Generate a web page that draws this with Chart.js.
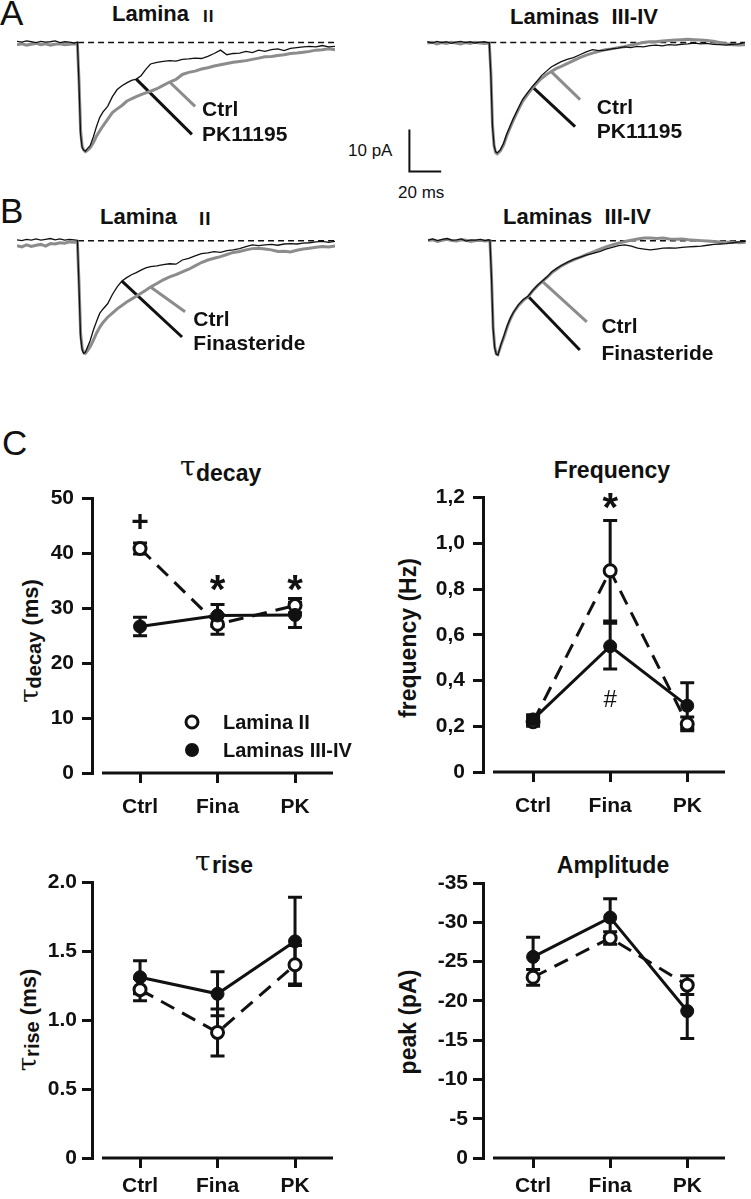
<!DOCTYPE html>
<html>
<head>
<meta charset="utf-8">
<script src="https://cdn.jsdelivr.net/npm/chart.js@4.4.1/dist/chart.umd.min.js"></script>
<style>
  body { margin: 0; background: #fff; }
  #fig { position: relative; width: 751px; height: 1199px; overflow: hidden; background: #fff;
         font-family: "Liberation Sans", Arial, sans-serif; color: #111; }
  canvas { position: absolute; }
  .t { position: absolute; line-height: 1; white-space: nowrap; }
  .b { font-weight: bold; }
  .c { transform: translateX(-50%); }
  .v { transform: translate(-50%, -50%) rotate(-90deg); }
  .tau { font-family: "DejaVu Serif", "Liberation Serif", serif; font-weight: normal; }
</style>
</head>
<body>
<div id="fig">
  <!-- panel letters -->
  <div class="t" style="left:0;top:-5px;font-size:35px">A</div>
  <div class="t" style="left:0;top:193px;font-size:35px">B</div>
  <div class="t" style="left:2px;top:425px;font-size:35px">C</div>

  <!-- trace titles -->
  <div class="t b" style="left:112px;top:3px;font-size:22px">Lamina</div>
  <div class="t b" style="left:203px;top:8px;font-size:17px;letter-spacing:1px">II</div>
  <div class="t b" style="left:510px;top:6px;font-size:22px">Laminas&nbsp;&nbsp;III-IV</div>
  <div class="t b" style="left:100px;top:206px;font-size:22px">Lamina</div>
  <div class="t b" style="left:199px;top:209px;font-size:19px;letter-spacing:1px">II</div>
  <div class="t b" style="left:503px;top:206px;font-size:22px">Laminas&nbsp;&nbsp;III-IV</div>

  <!-- scale bar text -->
  <div class="t" style="left:348px;top:142px;font-size:17px">10 pA</div>
  <div class="t" style="left:398px;top:184px;font-size:17px">20 ms</div>

  <!-- panel C titles -->
  <div class="t tau" style="left:180px;top:453px;font-size:28px">τ</div>
  <div class="t b" style="left:196px;top:462px;font-size:23px">decay</div>
  <div class="t b c" style="left:612px;top:459px;font-size:23px">Frequency</div>
  <div class="t tau" style="left:195px;top:848px;font-size:28px">τ</div>
  <div class="t b" style="left:212px;top:854px;font-size:23px">rise</div>
  <div class="t b c" style="left:613px;top:854px;font-size:23px">Amplitude</div>

  <!-- axis titles -->
  <div class="t b v" style="left:29px;top:641px;font-size:22px"><span class="tau" style="font-size:26px">τ</span><span style="font-size:20px;position:relative;top:3px">decay</span> (ms)</div>
  <div class="t b v" style="left:408px;top:638px;font-size:23px">frequency (Hz)</div>
  <div class="t b v" style="left:27px;top:1020px;font-size:22px"><span class="tau" style="font-size:26px">τ</span><span style="font-size:20px;position:relative;top:3px">rise</span> (ms)</div>
  <div class="t b v" style="left:408px;top:1022px;font-size:23px">peak (pA)</div>
</div>

<script>
// --- Data: current traces (pA), sampled on one shared time base (ms) ---
const traceTime = [0,3,6,9,12,15,18,21,24,27,30,33,36,38, 39,40,41,42,43,44, 46,48,50,52,54,
  57,60,63,66,69,72,75,78,81,84, 88,92,96,100,104,108,112,116,120,124,128,132,136,140,144,
  148,152,156,160,164,168,172,176,180,184,188,192,196,200];

// A, Lamina II
const a2Ctrl = [-0.5,-0.3,-0.6,-0.4,-0.2,-0.5,-0.3,-0.6,-0.4,-0.3,-0.5,-0.4,-0.3,-0.4,
  -9,-21,-24.8,-25.6,-26.0,-25.8, -25.1,-23.9,-22.3,-21.1,-19.9,
  -18.3,-16.7,-15.8,-15.0,-14.0,-13.4,-12.9,-12.4,-12.0,-11.6,
  -11.0,-10.2,-9.4,-8.8,-7.6,-7.1,-6.8,-6.3,-6.0,-5.6,-5.3,-5.0,-4.7,-4.5,-4.3,-4.0,-3.7,-3.4,-3.3,-3.1,-2.9,-2.6,-2.5,-2.3,-2.1,-1.8,-1.7,-1.5,-1.7];
const a2PK = [0.3,0.1,0.4,0.2,0.0,0.3,0.1,0.2,0.4,0.0,0.2,0.1,-0.1,0.1,
  -10,-22,-25.1,-25.7,-25.9,-25.4, -24.6,-22.5,-20.0,-17.9,-16.6,
  -15.2,-12.9,-11.2,-10.3,-9.6,-9.0,-8.7,-7.9,-6.4,-5.1,
  -4.7,-4.5,-4.3,-4.4,-4.0,-3.9,-3.7,-3.8,-3.3,-2.6,-1.8,-2.9,-2.6,-2.5,-2.1,-2.4,-1.8,-2.1,-1.7,-1.5,-1.9,-1.4,-1.2,-1.0,-0.9,-1.0,-0.7,-1.0,-0.9];

// A, Laminas III-IV
const a34Ctrl = [-0.1,0.1,-0.3,0.0,-0.2,0.1,-0.1,-0.3,0.0,-0.2,0.1,-0.1,-0.2,-0.1,
  -0.1,-7,-19.5,-24.6,-26.2,-26.5, -25.8,-24.4,-22.2,-20.4,-18.6,
  -16.2,-14.0,-12.4,-10.9,-9.6,-8.5,-7.6,-6.9,-6.2,-5.7,
  -5.0,-4.3,-3.6,-3.0,-2.5,-2.1,-1.7,-1.5,-1.2,-1.0,-0.6,-0.3,0.0,0.2,0.2,0.4,0.5,0.6,0.7,0.8,0.7,0.6,0.5,0.3,0.0,-0.3,-0.5,-0.6,-0.5];
const a34PK = [0.2,-0.1,0.3,0.0,0.2,-0.2,0.1,0.3,0.0,0.2,-0.1,0.1,0.2,0.0,
  0.0,-8,-20,-24.5,-26.0,-26.3, -25.5,-24.0,-21.8,-20.0,-18.2,
  -15.8,-13.5,-12.0,-10.5,-9.2,-7.8,-6.8,-5.8,-5.2,-4.6,
  -4.0,-3.6,-2.9,-2.2,-1.7,-1.9,-1.8,-1.5,-1.3,-1.0,-1.2,-0.9,-1.0,-0.7,-0.6,-0.8,-0.5,-0.6,-0.4,-0.3,-0.1,-0.3,-0.2,-0.4,-0.5,-0.6,-0.4,-0.3,0.0];

// B, Lamina II
const b2Ctrl = [-1.2,-1.5,-1.0,-1.4,-1.1,-0.9,-1.3,-0.7,-0.8,-0.5,-0.6,-0.3,-0.4,-0.3,
  -10,-22,-25.6,-26.6,-26.8,-26.3, -25.2,-23.7,-22.0,-20.6,-19.5,
  -18.2,-17.2,-16.2,-15.4,-14.6,-13.9,-13.2,-12.5,-11.8,-11.0,
  -10.2,-9.3,-8.6,-8.1,-7.4,-6.8,-6.0,-5.2,-4.6,-4.2,-3.8,-3.3,-2.8,-2.6,-2.2,-1.9,-1.8,-2.0,-2.2,-2.6,-2.5,-2.7,-2.3,-2.0,-1.8,-1.6,-1.4,-1.5,-1.3];
const b2Fina = [0.2,0.0,0.3,0.1,0.4,0.1,0.3,0.5,0.2,0.4,0.1,0.3,0.2,0.1,
  -11,-23,-26.0,-26.8,-26.5,-25.6, -23.8,-21.3,-19.2,-17.3,-16.3,
  -15.0,-12.8,-11.0,-9.6,-8.8,-8.1,-7.6,-7.0,-6.5,-6.2,
  -6.0,-5.7,-5.5,-5.6,-4.6,-4.2,-3.6,-3.1,-2.9,-2.6,-2.8,-2.4,-2.2,-1.9,-1.4,-1.0,-1.2,-1.0,-0.9,-1.1,-0.8,-0.7,-0.8,-0.6,-0.5,-0.3,-0.2,-0.4,-0.2];

// B, Laminas III-IV
const b34Ctrl = [0.0,0.2,-0.2,0.1,0.3,0.0,-0.1,0.2,0.1,-0.2,0.0,0.1,-0.1,0.0,
  0.0,-8.5,-20.5,-25.3,-26.9,-27.1, -24.8,-22.7,-20.4,-18.5,-17.0,
  -15.4,-14.2,-13.3,-11.9,-10.7,-9.7,-8.7,-7.6,-6.8,-6.0,
  -5.2,-4.5,-3.9,-3.3,-2.7,-2.1,-1.5,-1.0,-0.6,-0.2,0.1,0.4,0.6,0.6,0.5,0.6,0.4,0.3,0.4,0.2,0.1,0.0,-0.1,-0.2,-0.3,-0.4,-0.3,-0.5,-0.4];
const b34Fina = [0.1,0.4,0.0,0.3,0.5,0.1,0.2,0.4,-0.1,0.2,0.1,0.3,0.0,0.2,
  0.1,-9,-21,-25.5,-27.0,-27.2, -24.6,-22.4,-20.1,-18.3,-16.9,
  -15.2,-14.0,-13.2,-11.8,-10.6,-9.6,-8.6,-7.4,-6.6,-5.9,
  -5.1,-4.4,-3.9,-3.4,-3.0,-2.6,-2.0,-1.6,-1.2,-1.0,-1.3,-1.8,-2.0,-2.2,-2.0,-1.8,-1.7,-1.8,-1.6,-1.5,-1.4,-1.3,-1.1,-0.9,-0.8,-0.7,-0.5,-0.3,-0.2];

// scale bar
const scaleBarPA = 10;
const scaleBarMS = 20;

// --- Data: panel C summary (mean, error) ---
const groups = ['Ctrl', 'Fina', 'PK'];

const decayL2 = [40.9, 27.1, 30.5];
const decayL2Err = [1.0, 1.8, 1.3];
const decayL34 = [26.7, 28.7, 28.8];
const decayL34Err = [1.7, 2.0, 2.3];

const freqL2 = [0.22, 0.88, 0.21];
const freqL2Err = [0.02, 0.22, 0.03];
const freqL34 = [0.23, 0.55, 0.29];
const freqL34Err = [0.02, 0.10, 0.10];

const riseL2 = [1.22, 0.91, 1.40];
const riseL2Err = [0.08, 0.17, 0.14];
const riseL34 = [1.31, 1.19, 1.57];
const riseL34Err = [0.12, 0.16, 0.32];

const ampL2 = [-23.0, -28.0, -22.0];
const ampL2Err = [1.0, 0.8, 1.2];
const ampL34 = [-25.6, -30.6, -18.7];
const ampL34Err = [2.5, 2.4, 3.5];

// tick values
const decayTicks = [0, 10, 20, 30, 40, 50];
const freqTicks = [0, 0.2, 0.4, 0.6, 0.8, 1.0, 1.2];
const riseTicks = [0, 0.5, 1.0, 1.5, 2.0];
const ampTicks = [-35, -30, -25, -20, -15, -10, -5, 0];

// --- Look ---
const INK = '#111';
const GREY = '#8c8c8c';
const FONT = '"Liberation Sans", Arial, sans-serif';
const PX_PER_MS = 1.59;
const PX_PER_PA = 4.2;
const PA_TOP = 3;

const fig = document.getElementById('fig');

function addCanvas(left, top, w, h) {
    const c = document.createElement('canvas');
    c.width = Math.round(w);
    c.height = Math.round(h);
    c.style.left = left + 'px';
    c.style.top = top + 'px';
    c.style.width = Math.round(w) + 'px';
    c.style.height = Math.round(h) + 'px';
    fig.appendChild(c);
    return c;
}

const series = (xs, ys) => ys.map((v, i) => ({ x: xs[i], y: v }));

// --- Feature: trace panels ---
const traceLabelPlugin = {
    id: 'traceLabels',
    afterDatasetsDraw(chart, args, opts) {
        const { ctx, scales: { x, y } } = chart;
        ctx.save();
        ctx.font = 'bold 21px ' + FONT;
        ctx.fillStyle = INK;
        ctx.textBaseline = 'alphabetic';
        (opts.items || []).forEach(it => {
            ctx.fillText(it.text, x.getPixelForValue(it.t), y.getPixelForValue(it.pA));
        });
        ctx.restore();
    }
};

const tracePanels = [
    { x0: 17, base: 43, tMin: 0, tMax: 200, paMin: -28, onset: 38.4,
      ctrl: a2Ctrl, drug: a2PK, drugName: 'PK11195',
      gPtr: { from: 96, to: [112, -15.2] }, kPtr: { from: 75, to: [110, -21.9] },
      lab: { t: 116.4, ctrl: -17.5, drug: -23.5 } },
    { x0: 427, base: 43, tMin: -55, tMax: 200, paMin: -37.5, onset: 39.6,
      ctrl: a34Ctrl, drug: a34PK, drugName: 'PK11195',
      gPtr: { from: 78, to: [96.2, -13.6] }, kPtr: { from: 66, to: [93, -20] },
      lab: { t: 106.7, ctrl: -17.1, drug: -22.7 },
      bar: { t: -11.3, pA: -30.7 } },
    { x0: 17, base: 241, tMin: 0, tMax: 200, paMin: -30.5, onset: 38.4,
      ctrl: b2Ctrl, drug: b2Fina, drugName: 'Finasteride',
      gPtr: { from: 84, to: [105.7, -16.9] }, kPtr: { from: 66, to: [103.8, -22.9] },
      lab: { t: 110.9, ctrl: -20.4, drug: -26.0 } },
    { x0: 428, base: 241, tMin: 0, tMax: 201.5, paMin: -30.5, onset: 39.0,
      ctrl: b34Ctrl, drug: b34Fina, drugName: 'Finasteride',
      gPtr: { from: 72, to: [100, -19.3] }, kPtr: { from: 63, to: [95.6, -26.0] },
      lab: { t: 109.2, ctrl: -22.0, drug: -28.3 } }
];

function traceChart(p) {
    const left = p.x0 + p.tMin * PX_PER_MS;
    const top = p.base - PA_TOP * PX_PER_PA;
    const w = (p.tMax - p.tMin) * PX_PER_MS;
    const h = (PA_TOP - p.paMin) * PX_PER_PA;
    const cv = addCanvas(left, top, w, h);

    const gi = traceTime.indexOf(p.gPtr.from);
    const ki = traceTime.indexOf(p.kPtr.from);

    const datasets = [
        { data: series(traceTime, p.drug), borderColor: INK, borderWidth: 1.3 },
        { data: series(traceTime, p.ctrl), borderColor: GREY, borderWidth: 3 },
        { data: [{ x: p.onset, y: 0 }, { x: 200, y: 0 }], borderColor: INK, borderWidth: 1.5, borderDash: [6, 4] },
        { data: [{ x: traceTime[ki], y: p.drug[ki] }, { x: p.kPtr.to[0], y: p.kPtr.to[1] }], borderColor: INK, borderWidth: 3 },
        { data: [{ x: traceTime[gi], y: p.ctrl[gi] }, { x: p.gPtr.to[0], y: p.gPtr.to[1] }], borderColor: GREY, borderWidth: 3 }
    ];
    if (p.bar) {
        datasets.push({
            data: [
                { x: p.bar.t, y: p.bar.pA + scaleBarPA },
                { x: p.bar.t, y: p.bar.pA },
                { x: p.bar.t + scaleBarMS, y: p.bar.pA }
            ],
            borderColor: INK, borderWidth: 2
        });
    }

    new Chart(cv, {
        type: 'line',
        data: { datasets: datasets.map(d => Object.assign({ pointRadius: 0, tension: 0, fill: false, clip: false }, d)) },
        options: {
            responsive: false,
            animation: false,
            devicePixelRatio: 1,
            events: [],
            layout: { padding: 0 },
            plugins: {
                legend: { display: false },
                tooltip: { enabled: false },
                traceLabels: { items: [
                    { text: 'Ctrl', t: p.lab.t, pA: p.lab.ctrl },
                    { text: p.drugName, t: p.lab.t, pA: p.lab.drug }
                ] }
            },
            scales: {
                x: { type: 'linear', display: false, min: p.tMin, max: p.tMax },
                y: { type: 'linear', display: false, min: p.paMin, max: PA_TOP }
            }
        },
        plugins: [traceLabelPlugin]
    });
}

tracePanels.forEach(traceChart);

// --- Feature: summary panels ---
const statExtrasPlugin = {
    id: 'statExtras',
    beforeDatasetsDraw(chart) {
        const { ctx, chartArea, scales: { x, y } } = chart;
        ctx.save();
        ctx.strokeStyle = INK;
        ctx.lineWidth = 3;
        // x axis with a gap from the y axis
        ctx.beginPath();
        ctx.moveTo(chartArea.left + 10, chartArea.bottom);
        ctx.lineTo(chartArea.right, chartArea.bottom);
        ctx.stroke();
        // error bars
        chart.data.datasets.forEach(ds => {
            ds.data.forEach((pt, i) => {
                const e = ds.errors[i];
                const px = x.getPixelForValue(pt.x);
                const y1 = y.getPixelForValue(pt.y + e);
                const y2 = y.getPixelForValue(pt.y - e);
                ctx.beginPath();
                ctx.moveTo(px, y1); ctx.lineTo(px, y2);
                ctx.moveTo(px - 7, y1); ctx.lineTo(px + 7, y1);
                ctx.moveTo(px - 7, y2); ctx.lineTo(px + 7, y2);
                ctx.stroke();
            });
        });
        ctx.restore();
    },
    afterDatasetsDraw(chart, args, opts) {
        const { ctx, chartArea, scales: { x, y } } = chart;
        ctx.save();
        ctx.fillStyle = INK;
        ctx.textAlign = 'center';
        ctx.textBaseline = 'alphabetic';
        (opts.marks || []).forEach(m => {
            const cfg = {
                '*': { font: 'bold 40px ' + FONT, k: 0.54 },
                '+': { font: 'bold 30px ' + FONT, k: 0.34 },
                '#': { font: '24px ' + FONT, k: 0.34 }
            }[m.s];
            const size = parseFloat(cfg.font.match(/(\d+)px/)[1]);
            ctx.font = cfg.font;
            ctx.fillText(m.s, x.getPixelForValue(m.i), y.getPixelForValue(m.y) + cfg.k * size);
        });
        if (opts.legend) {
            const lx = chartArea.left + 100;
            const rows = [
                { dy: -51, open: true, text: 'Lamina II' },
                { dy: -23, open: false, text: 'Laminas III-IV' }
            ];
            ctx.textAlign = 'left';
            ctx.font = 'bold 20px ' + FONT;
            rows.forEach(r => {
                const cy = chartArea.bottom + r.dy;
                ctx.beginPath();
                ctx.arc(lx, cy, r.open ? 6 : 7, 0, Math.PI * 2);
                if (r.open) {
                    ctx.fillStyle = '#fff'; ctx.fill();
                    ctx.lineWidth = 3; ctx.strokeStyle = INK; ctx.stroke();
                } else {
                    ctx.fillStyle = INK; ctx.fill();
                }
                ctx.fillStyle = INK;
                ctx.fillText(r.text, lx + 31, cy + 6.5);
            });
        }
        ctx.restore();
    }
};

const statPanels = [
    { left: 0, top: 478, w: 380, h: 345, xH: 50, padR: 47, xMin: -0.62, xMax: 2.49,
      l2: decayL2, l2Err: decayL2Err, l34: decayL34, l34Err: decayL34Err,
      ticks: decayTicks, fmt: v => String(v), yPad: 8, xPad: 12, legend: true,
      marks: [{ i: 0, y: 46, s: '+' }, { i: 1, y: 35, s: '*' }, { i: 2, y: 35, s: '*' }] },
    { left: 391, top: 477, w: 345, h: 345, xH: 50, padR: 11, xMin: -0.65, xMax: 2.49,
      l2: freqL2, l2Err: freqL2Err, l34: freqL34, l34Err: freqL34Err,
      ticks: freqTicks, fmt: v => v === 0 ? '0' : v.toFixed(1).replace('.', ','), yPad: 8, xPad: 12,
      marks: [{ i: 1, y: 1.19, s: '*' }, { i: 1, y: 0.32, s: '#' }] },
    { left: 0, top: 862, w: 345, h: 337, xH: 41, padR: 12, xMin: -0.62, xMax: 2.49,
      l2: riseL2, l2Err: riseL2Err, l34: riseL34, l34Err: riseL34Err,
      ticks: riseTicks, fmt: v => v === 0 ? '0' : v.toFixed(1), yPad: 5, xPad: 6 },
    { left: 391, top: 863, w: 345, h: 336, xH: 41, padR: 11, xMin: -0.65, xMax: 2.49,
      l2: ampL2, l2Err: ampL2Err, l34: ampL34, l34Err: ampL34Err, reverse: true,
      ticks: ampTicks, fmt: v => String(v), yPad: 5, xPad: 6 }
];

function statChart(p) {
    const cv = addCanvas(p.left, p.top, p.w, p.h);
    const idx = groups.map((g, i) => i);
    const tickFont = { family: FONT, size: 21, weight: 'bold' };

    new Chart(cv, {
        type: 'line',
        data: {
            datasets: [
                { label: 'Laminas III-IV', data: series(idx, p.l34), errors: p.l34Err,
                  borderColor: INK, borderWidth: 3, pointRadius: 6.5,
                  pointBackgroundColor: INK, pointBorderColor: INK, pointBorderWidth: 1 },
                { label: 'Lamina II', data: series(idx, p.l2), errors: p.l2Err,
                  borderColor: INK, borderWidth: 3, borderDash: [15, 9], pointRadius: 6,
                  pointBackgroundColor: '#fff', pointBorderColor: INK, pointBorderWidth: 3 }
            ]
        },
        options: {
            responsive: false,
            animation: false,
            devicePixelRatio: 1,
            events: [],
            layout: { padding: { top: 20, right: p.padR, bottom: 0, left: 0 } },
            plugins: {
                legend: { display: false },
                tooltip: { enabled: false },
                statExtras: { marks: p.marks || [], legend: !!p.legend }
            },
            scales: {
                x: {
                    type: 'linear', min: p.xMin, max: p.xMax,
                    afterBuildTicks: s => { s.ticks = idx.map(i => ({ value: i })); },
                    afterFit: s => { s.height = p.xH; },
                    ticks: { callback: v => groups[v], font: tickFont, color: INK, padding: p.xPad, maxRotation: 0, autoSkip: false },
                    grid: { drawOnChartArea: false, tickLength: 10, lineWidth: 3, color: INK },
                    border: { display: false }
                },
                y: {
                    type: 'linear', min: p.ticks[0], max: p.ticks[p.ticks.length - 1], reverse: !!p.reverse,
                    afterBuildTicks: s => { s.ticks = p.ticks.map(v => ({ value: v })); },
                    afterFit: s => { s.width = 92; },
                    ticks: { callback: v => p.fmt(v), font: tickFont, color: INK, padding: p.yPad, autoSkip: false },
                    grid: { drawOnChartArea: false, tickLength: 10, lineWidth: 3, color: INK },
                    border: { display: true, width: 3, color: INK }
                }
            }
        },
        plugins: [statExtrasPlugin]
    });
}

statPanels.forEach(statChart);
</script>
</body>
</html>
